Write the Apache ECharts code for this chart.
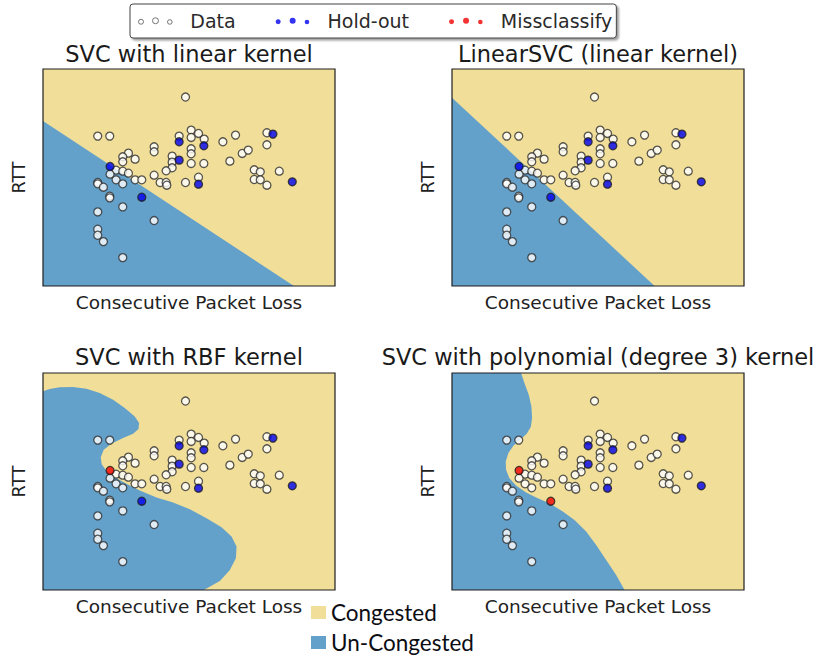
<!DOCTYPE html>
<html><head><meta charset="utf-8">
<script src="https://cdn.jsdelivr.net/npm/echarts@6/dist/echarts.min.js"></script>
<style>html,body{margin:0;padding:0;background:#fff}#c{width:822px;height:657px}</style>
</head><body><div id="c"></div>
<script>
// ---------------- data ----------------
const panelTitles = ['SVC with linear kernel', 'LinearSVC (linear kernel)', 'SVC with RBF kernel', 'SVC with polynomial (degree 3) kernel'];
const xName = 'Consecutive Packet Loss';
const yName = 'RTT';
const xRange = [0, 8.75];
const yRange = [0, 6.5];

// training data (white points)
const dataX = [4.27,1.64,2.00,4.44,4.66,4.08,4.44,4.83,5.77,5.39,6.71,6.71,3.33,3.33,4.44,4.44,2.56,2.39,2.39,2.76,3.87,3.87,3.87,3.69,4.44,4.82,5.60,5.97,6.15,6.33,6.51,6.33,6.51,6.71,7.08,2.19,2.39,2.56,2.01,2.19,2.39,2.76,2.96,3.33,3.51,3.69,3.71,4.27,4.66,1.64,1.64,1.81,2.00,2.00,2.39,1.64,3.33,1.64,1.64,1.81,2.39];
const dataY = [5.66,4.49,4.49,4.67,4.57,4.49,4.45,4.40,4.52,4.32,4.59,4.23,4.17,4.02,4.11,3.96,3.98,3.87,3.72,3.80,3.89,3.71,3.54,3.45,3.67,3.67,3.74,3.97,4.07,3.48,3.42,3.19,3.18,3.02,3.44,3.47,3.44,3.38,3.35,3.18,3.06,3.18,3.18,3.32,3.10,3.10,3.02,3.10,3.26,3.10,3.06,2.96,2.69,2.64,2.37,2.22,1.96,1.70,1.52,1.33,0.85];

// hold-out points (blue)
const holdX = [6.89,4.08,4.82,4.08,2.01,4.66,7.47,2.96];
const holdY = [4.55,4.32,4.20,3.77,3.58,3.05,3.12,2.66];

// indices of hold-out points misclassified in each panel (red)
const missIdx = [[], [], [4], [4, 7]];

// decision boundaries (Un-Congested region lies to the lower-left)
const boundaryLinear = [[0, 4.94], [7.52, 0]];
const boundaryLinearSVC = [[0, 5.64], [6.07, 0]];
const boundaryRBF = [[0,5.95],[0.20,6.02],[0.50,6.07],[0.90,6.08],[1.30,6.03],[1.70,5.90],[2.10,5.70],[2.45,5.45],[2.75,5.20],[2.88,5.00],[2.86,4.82],[2.70,4.68],[2.40,4.55],[2.05,4.38],[1.82,4.20],[1.73,3.98],[1.76,3.77],[1.90,3.57],[2.15,3.38],[2.50,3.18],[2.90,2.98],[3.40,2.77],[3.90,2.62],[4.40,2.42],[4.90,2.15],[5.35,1.88],[5.65,1.60],[5.80,1.30],[5.78,0.95],[5.60,0.60],[5.30,0.27],[4.82,0]];
const boundaryPoly = [[2.07,6.50],[2.17,6.20],[2.30,5.85],[2.38,5.50],[2.40,5.15],[2.36,4.88],[2.24,4.68],[2.04,4.50],[1.84,4.32],[1.69,4.10],[1.61,3.85],[1.62,3.60],[1.72,3.35],[1.92,3.13],[2.22,2.92],[2.57,2.75],[2.92,2.60],[3.32,2.35],[3.67,2.10],[4.02,1.75],[4.32,1.35],[4.62,0.90],[4.92,0.45],[5.17,0]];
const boundaries = [boundaryLinear, boundaryLinearSVC, boundaryRBF, boundaryPoly];

// ---------------- style ----------------
const YELLOW = '#F1DE98';
const BLUE = '#64A1CA';
const FONT = 'DejaVu Sans';
const grids = [
  {left: 43, top: 69}, {left: 452, top: 69},
  {left: 43, top: 373}, {left: 452, top: 373}
];
const GW = 292, GH = 217;

function polySeries(name, verts, gi, color, z) {
  return {
    type: 'custom', name, xAxisIndex: gi, yAxisIndex: gi, z, silent: true,
    data: verts, itemStyle: {color},
    renderItem(params, api) {
      if (params.dataIndex !== 0) return;
      return {type: 'polygon', shape: {points: verts.map(v => api.coord(v))}, style: {fill: color}};
    }
  };
}
function zip(xs, ys) { return xs.map((x, i) => [x, ys[i]]); }

const series = [];
const xAxes = [], yAxes = [], gridOpts = [], titles = [];
grids.forEach((g, i) => {
  gridOpts.push({left: g.left, top: g.top, width: GW, height: GH, show: true, z: 3,
    backgroundColor: 'rgba(0,0,0,0)', borderColor: '#1e1e1e', borderWidth: 1.2});
  xAxes.push({gridIndex: i, type: 'value', min: xRange[0], max: xRange[1],
    axisLine: {show: false}, axisTick: {show: false}, axisLabel: {show: false}, splitLine: {show: false},
    name: xName, nameLocation: 'middle', nameGap: 7,
    nameTextStyle: {fontFamily: FONT, fontSize: 18.5, color: '#222', verticalAlign: 'top'}});
  yAxes.push({gridIndex: i, type: 'value', min: yRange[0], max: yRange[1],
    axisLine: {show: false}, axisTick: {show: false}, axisLabel: {show: false}, splitLine: {show: false},
    name: yName, nameLocation: 'middle', nameGap: 15,
    nameTextStyle: {fontFamily: FONT, fontSize: 17.5, color: '#222'}});
  titles.push({text: panelTitles[i], left: g.left + GW / 2, top: i < 2 ? 42 : 345, textAlign: 'center', padding: 0,
    textStyle: {fontFamily: FONT, fontSize: 22.5, fontWeight: 'normal', color: '#1a1a1a'}});

  const corners = [[xRange[0], yRange[0]], [xRange[1], yRange[0]], [xRange[1], yRange[1]], [xRange[0], yRange[1]]];
  series.push(polySeries('Congested', corners, i, YELLOW, 1));
  const b = boundaries[i];
  const closing = b[0][0] > xRange[0] ? [[xRange[0], yRange[0]], [xRange[0], yRange[1]]] : [[xRange[0], yRange[0]]];
  series.push(polySeries('Un-Congested', b.concat(closing), i, BLUE, 2));

  series.push({type: 'scatter', name: 'Data', xAxisIndex: i, yAxisIndex: i, z: 5, silent: true,
    symbol: 'circle', symbolSize: 8, data: zip(dataX, dataY),
    itemStyle: {color: '#ffffff', borderColor: '#2e2e2e', borderWidth: 1.3}});
  const hold = zip(holdX, holdY);
  series.push({type: 'scatter', name: 'Hold-out', xAxisIndex: i, yAxisIndex: i, z: 6, silent: true,
    symbol: 'circle', symbolSize: 8, data: hold.filter((p, k) => !missIdx[i].includes(k)),
    itemStyle: {color: '#0000f0', borderColor: '#1e1e1e', borderWidth: 1.3}});
  series.push({type: 'scatter', name: 'Missclassify', xAxisIndex: i, yAxisIndex: i, z: 7, silent: true,
    symbol: 'circle', symbolSize: 8, data: hold.filter((p, k) => missIdx[i].includes(k)),
    itemStyle: {color: '#f00000', borderColor: '#1e1e1e', borderWidth: 1.3}});
});

const dotsIcon = 'path://M0,4a2.5,2.5 0 1,0 5,0a2.5,2.5 0 1,0 -5,0M14,3a3,3 0 1,0 6,0a3,3 0 1,0 -6,0M29,4.2a2.3,2.3 0 1,0 4.6,0a2.3,2.3 0 1,0 -4.6,0';

const option = {
  animation: false,
  backgroundColor: '#ffffff',
  title: titles,
  grid: gridOpts,
  xAxis: xAxes,
  yAxis: yAxes,
  legend: [
    {left: 130, top: 4, orient: 'horizontal', selectedMode: false,
     padding: [7.5, 4, 7.5, 8], itemGap: 40, itemWidth: 34, itemHeight: 6.5,
     borderColor: '#444', borderWidth: 1, borderRadius: 3,
     shadowColor: 'rgba(0,0,0,0.4)', shadowBlur: 2, shadowOffsetX: 2, shadowOffsetY: 2,
     backgroundColor: '#fff',
     textStyle: {fontFamily: FONT, fontSize: 19, color: '#2a2a2a', padding: [0, 0, 0, 13]},
     data: [
       {name: 'Data', icon: dotsIcon, itemStyle: {color: '#fff', borderColor: '#555', borderWidth: 1}},
       {name: 'Hold-out', icon: dotsIcon, itemStyle: {color: '#0000f0', borderWidth: 0}},
       {name: 'Missclassify', icon: dotsIcon, itemStyle: {color: '#f00000', borderWidth: 0}}
     ]},
    {left: 311, top: 601, orient: 'vertical', selectedMode: false, padding: 0,
     itemGap: 7, itemWidth: 15, itemHeight: 13, icon: 'rect',
     textStyle: {fontFamily: 'Lato', fontSize: 22.5, color: '#0d0d14'},
     data: ['Congested', 'Un-Congested']}
  ],
  series
};
const chart = echarts.init(document.getElementById('c'), null, {renderer: 'svg'});
chart.setOption(option);
</script>
</body></html>
